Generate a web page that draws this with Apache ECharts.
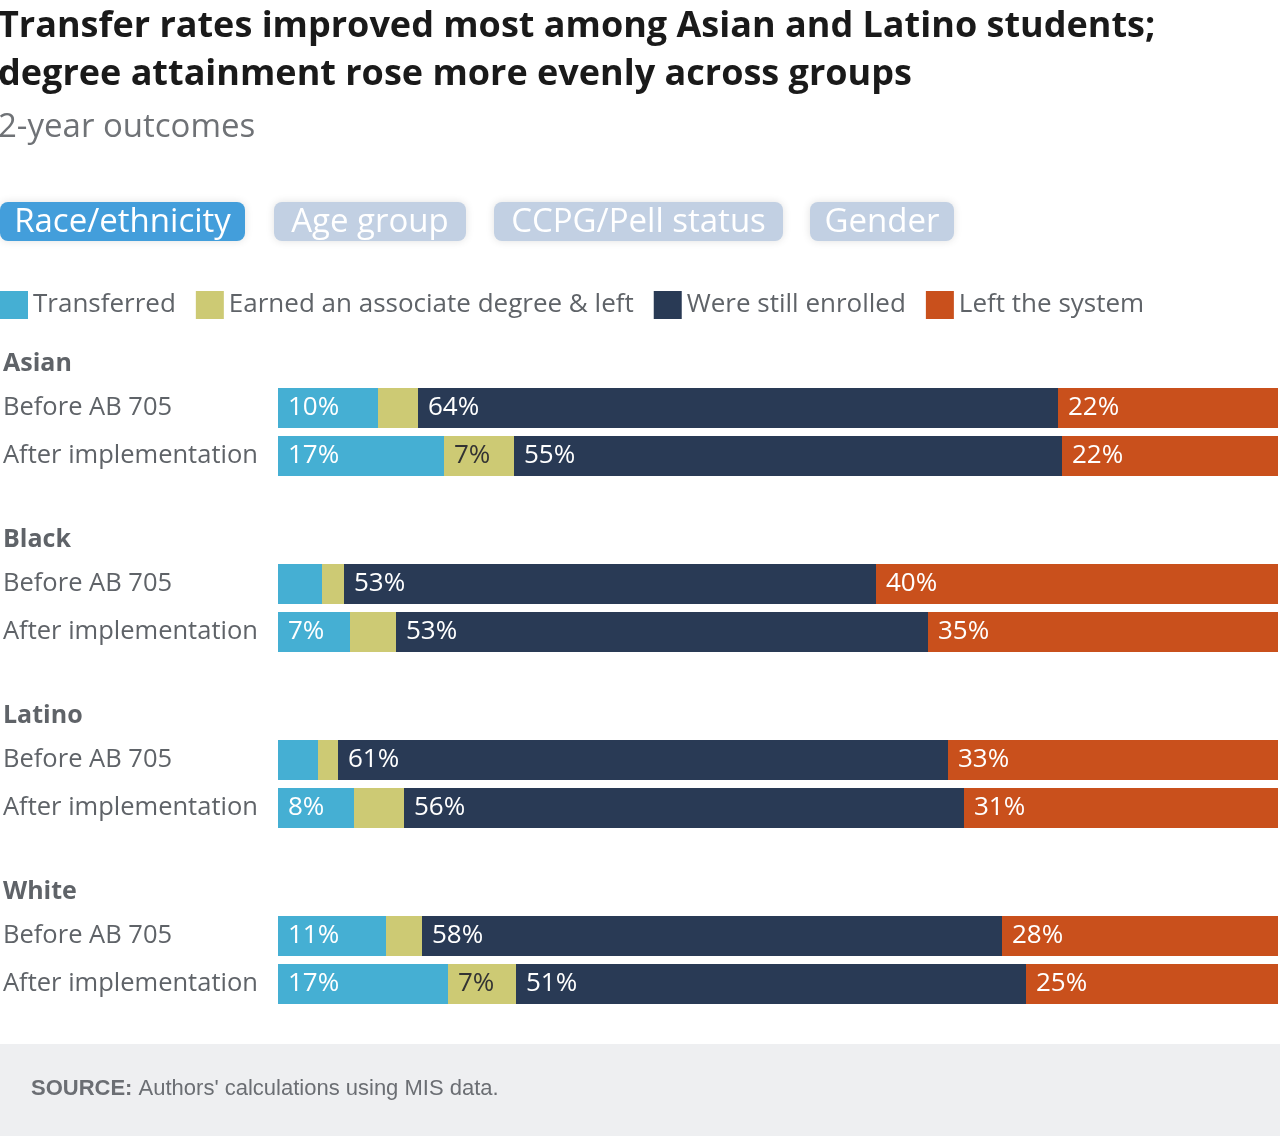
<!DOCTYPE html>
<html>
<head>
<meta charset="utf-8">
<script src="https://cdn.jsdelivr.net/npm/echarts@6/dist/echarts.min.js"></script>
<style>
  html, body { margin: 0; padding: 0; background: #fff; }
  #main { width: 1280px; height: 1136px; }
</style>
</head>
<body>
<div id="main"></div>
<script>
// groups and the two periods in each
const groups = ['Asian', 'Black', 'Latino', 'White'];
const periods = ['Before AB 705', 'After implementation'];
const tabs = ['Race/ethnicity', 'Age group', 'CCPG/Pell status', 'Gender'];

// shares in %, order: group x period (Before, After)
const transferred = [10, 16.6, 4.4, 7.2, 4, 7.6, 10.8, 17];
const earned = [4, 7, 2.2, 4.6, 2, 5, 3.6, 6.8];
const enrolled = [64, 54.8, 53.2, 53.2, 61, 56, 58, 51];
const leftSystem = [22, 21.6, 40.2, 35, 33, 31.4, 27.6, 25.2];

const seriesNames = ['Transferred', 'Earned an associate degree & left', 'Were still enrolled', 'Left the system'];
const seriesData = [transferred, earned, enrolled, leftSystem];
const colors = ['#45afd3', '#cdca74', '#293a55', '#c9501c'];
const labelColors = ['#fff', '#333', '#fff', '#fff'];

const FONT = '"Open Sans", "Noto Sans", sans-serif';
const GRAY = '#5f6368';

const chart = echarts.init(document.getElementById('main'));

const grids = [], xAxes = [], yAxes = [], series = [], graphics = [];
const firstTop = 384, groupStep = 176;

groups.forEach((g, gi) => {
  const top = firstTop + gi * groupStep;
  grids.push({ left: 278, width: 1000, top: top, height: 96 });
  xAxes.push({ type: 'value', gridIndex: gi, min: 0, max: 100, show: false });
  yAxes.push({
    type: 'category', gridIndex: gi, data: periods, inverse: true,
    axisLine: { show: false }, axisTick: { show: false },
    axisLabel: { align: 'left', margin: 275, fontSize: 25.5, color: GRAY, fontFamily: FONT, padding: [3, 0, 0, 0] }
  });
  seriesNames.forEach((name, si) => {
    series.push({
      name: name, type: 'bar', stack: 'g' + gi,
      xAxisIndex: gi, yAxisIndex: gi,
      barWidth: 40,
      itemStyle: { color: colors[si] },
      label: {
        show: true, position: 'insideLeft', distance: 10,
        color: labelColors[si], fontSize: 26, fontFamily: FONT,
        formatter: p => p.value >= 6 ? Math.round(p.value) + '%' : ''
      },
      data: seriesData[si].slice(gi * 2, gi * 2 + 2)
    });
  });
  graphics.push({
    type: 'text', left: 3, top: top - 33,
    style: { text: g, fontSize: 25, fontWeight: 'bold', fill: GRAY, fontFamily: FONT }
  });
});

// tab buttons
const tabBoxes = [[0, 245], [274, 192], [494, 289], [810, 144]];
tabs.forEach((t, i) => {
  const [x, w] = tabBoxes[i];
  graphics.push({
    type: 'group', left: x, top: 202,
    children: [
      { type: 'rect', shape: { x: 0, y: 0, width: w, height: 39, r: 8 },
        style: { fill: i === 0 ? '#439edb' : '#c2d0e3', shadowBlur: 8, shadowColor: 'rgba(0,0,0,0.12)' } },
      { type: 'text', x: w / 2, y: 21,
        style: { text: t, fontSize: 33, fill: '#fff', fontFamily: FONT, align: 'center', verticalAlign: 'middle' } }
    ]
  });
});

// footer band
graphics.push({
  type: 'rect', left: 0, top: 1044, shape: { width: 1280, height: 92 },
  style: { fill: '#eeeff1' }, z: -1
});
graphics.push({
  type: 'text', left: 31, top: 1078,
  style: {
    text: '{b|SOURCE:} Authors\' calculations using MIS data.',
    fontSize: 22, fill: '#6b6e73', fontFamily: '"Liberation Sans", Arial, sans-serif',
    rich: { b: { fontWeight: 'bold', fontSize: 22, fill: '#6b6e73', fontFamily: '"Liberation Sans", Arial, sans-serif' } }
  }
});

chart.setOption({
  animation: false,
  title: {
    left: -2, top: 3, padding: 0,
    text: 'Transfer rates improved most among Asian and Latino students;\ndegree attainment rose more evenly across groups',
    textStyle: { fontSize: 36, fontWeight: 'bold', color: '#1a1a1a', fontFamily: FONT, lineHeight: 48 },
    subtext: '2-year outcomes',
    subtextStyle: { fontSize: 33, color: '#6f7276', fontFamily: FONT, lineHeight: 34 },
    itemGap: 12
  },
  legend: {
    left: -5, top: 286,
    data: seriesNames,
    icon: 'rect', itemWidth: 28, itemHeight: 28, itemGap: 20,
    textStyle: { fontSize: 26, color: GRAY, fontFamily: FONT }
  },
  grid: grids,
  xAxis: xAxes,
  yAxis: yAxes,
  series: series,
  graphic: graphics
});
</script>
</body>
</html>
